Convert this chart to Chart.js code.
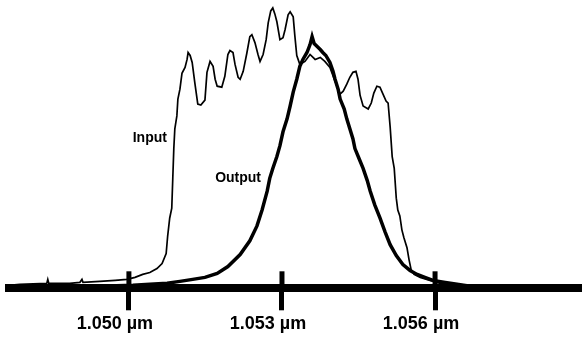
<!DOCTYPE html>
<html>
<head>
<meta charset="utf-8">
<script src="https://cdn.jsdelivr.net/npm/chart.js@4/dist/chart.umd.min.js"></script>
<style>
  html, body { margin: 0; padding: 0; background: #fff; }
  #spectrum { display: block; }
</style>
</head>
<body>
<canvas id="spectrum" width="582" height="337"></canvas>
<script>
// Wavelength in nm, intensity in arbitrary units (baseline = 0)
const inputWl = [
    1047.65, 1047.86, 1048.39, 1048.41, 1048.43, 1048.84, 1049.04, 1049.08, 1049.10, 1049.43,
    1049.73, 1049.96, 1050.12, 1050.27, 1050.41, 1050.55, 1050.65, 1050.73, 1050.76, 1050.80,
    1050.84, 1050.86, 1050.88, 1050.90, 1050.94, 1050.96, 1051.00, 1051.04, 1051.10, 1051.14,
    1051.16, 1051.20, 1051.24, 1051.29, 1051.35, 1051.41, 1051.49, 1051.53, 1051.59, 1051.65,
    1051.69, 1051.73, 1051.82, 1051.88, 1051.94, 1051.98, 1052.04, 1052.08, 1052.14, 1052.18,
    1052.24, 1052.31, 1052.37, 1052.41, 1052.47, 1052.53, 1052.57, 1052.63, 1052.69, 1052.73,
    1052.78, 1052.82, 1052.86, 1052.90, 1052.96, 1053.02, 1053.06, 1053.12, 1053.16, 1053.22,
    1053.25, 1053.29, 1053.35, 1053.45, 1053.55, 1053.65, 1053.75, 1053.84, 1053.94, 1054.04,
    1054.14, 1054.20, 1054.27, 1054.33, 1054.39, 1054.45, 1054.49, 1054.53, 1054.59, 1054.69,
    1054.75, 1054.80, 1054.86, 1054.92, 1054.98, 1055.04, 1055.08, 1055.12, 1055.16, 1055.20,
    1055.24, 1055.27, 1055.31, 1055.35, 1055.39, 1055.45, 1055.49, 1055.53, 1055.59, 1055.71,
    1055.90, 1056.10, 1056.49, 1057.27, 1058.88
];
const inputVal = [
    3, 4, 5, 9, 5, 5, 6, 9, 6, 7,
    8, 9, 11, 14, 16, 20, 25, 35, 53, 71,
    81, 111, 141, 161, 174, 191, 201, 217, 223, 231,
    238, 235, 228, 208, 186, 185, 190, 218, 229, 224,
    211, 204, 203, 214, 236, 240, 238, 226, 213, 211,
    219, 237, 254, 256, 248, 236, 229, 236, 251, 268,
    280, 283, 277, 269, 251, 253, 261, 276, 279, 274,
    256, 235, 226, 229, 236, 231, 233, 229, 223, 209,
    196, 199, 206, 213, 218, 219, 211, 195, 184, 181,
    187, 197, 204, 203, 196, 189, 187, 163, 133, 121,
    91, 79, 73, 59, 51, 41, 29, 19, 14, 11,
    8, 5, 3, 2, 2
];

const outputWl = [
    1047.65, 1049.43, 1050.08, 1050.41, 1050.75, 1051.00, 1051.25, 1051.49, 1051.73, 1051.94,
    1052.18, 1052.37, 1052.51, 1052.61, 1052.71, 1052.76, 1052.82, 1052.90, 1052.96, 1053.02,
    1053.10, 1053.16, 1053.22, 1053.29, 1053.35, 1053.41, 1053.49, 1053.55, 1053.59, 1053.63,
    1053.69, 1053.75, 1053.80, 1053.86, 1053.94, 1054.00, 1054.04, 1054.10, 1054.14, 1054.22,
    1054.27, 1054.33, 1054.39, 1054.43, 1054.51, 1054.59, 1054.67, 1054.73, 1054.82, 1054.92,
    1055.02, 1055.12, 1055.24, 1055.37, 1055.51, 1055.65, 1055.80, 1055.96, 1056.20, 1056.43,
    1056.69, 1056.94, 1057.67, 1058.88
];
const outputVal = [
    2, 2, 3, 4, 5, 7, 9, 11, 15, 22,
    34, 48, 63, 79, 98, 111, 121, 133, 144, 158,
    171, 184, 198, 211, 224, 231, 238, 246, 254, 247,
    244, 241, 238, 235, 228, 219, 211, 201, 191, 181,
    171, 161, 151, 141, 131, 121, 109, 98, 84, 71,
    57, 44, 33, 24, 18, 14, 11, 8, 6, 4,
    2, 1, 1, 1
];

const tickWl = [1050, 1053, 1056];

// curve labels, placed in data coordinates
const curveLabels = [
    { text: 'Input', x: 1050.41, y: 152 },
    { text: 'Output', x: 1052.14, y: 111 }
];

const FONT = '"Liberation Sans", Arial, sans-serif';

// tick marks also stick up above the axis line, and the curve names
const extrasPlugin = {
    id: 'extras',
    afterDatasetsDraw(chart) {
        const ctx = chart.ctx;
        const xs = chart.scales.x;
        const ys = chart.scales.y;
        ctx.save();
        ctx.strokeStyle = '#000';
        ctx.lineWidth = 5;
        xs.ticks.forEach((t, i) => {
            const px = xs.getPixelForTick(i);
            ctx.beginPath();
            ctx.moveTo(px, xs.top - 17);
            ctx.lineTo(px, xs.top);
            ctx.stroke();
        });
        ctx.fillStyle = '#000';
        ctx.font = 'bold 14px ' + FONT;
        ctx.textAlign = 'center';
        ctx.textBaseline = 'middle';
        curveLabels.forEach(l => {
            ctx.fillText(l.text, xs.getPixelForValue(l.x), ys.getPixelForValue(l.y));
        });
        ctx.restore();
    }
};

new Chart(document.getElementById('spectrum'), {
    type: 'line',
    data: {
        datasets: [
            {
                label: 'Input',
                data: inputWl.map((x, i) => ({ x: x, y: inputVal[i] })),
                borderColor: '#000',
                borderWidth: 1.7,
                pointRadius: 0,
                tension: 0
            },
            {
                label: 'Output',
                data: outputWl.map((x, i) => ({ x: x, y: outputVal[i] })),
                borderColor: '#000',
                borderWidth: 3.5,
                pointRadius: 0,
                tension: 0
            }
        ]
    },
    options: {
        responsive: false,
        animation: false,
        layout: { padding: { left: 9, right: 0, top: 0, bottom: 0 } },
        plugins: {
            legend: { display: false },
            tooltip: { enabled: false }
        },
        scales: {
            x: {
                type: 'linear',
                min: 1047.65,
                max: 1058.88,
                afterBuildTicks: scale => {
                    scale.ticks = tickWl.map(v => ({ value: v }));
                },
                border: { display: true, color: '#000', width: 8 },
                grid: {
                    drawOnChartArea: false,
                    drawTicks: true,
                    tickLength: 22,
                    tickWidth: 5,
                    tickColor: '#000'
                },
                ticks: {
                    color: '#000',
                    padding: 3,
                    labelOffset: -14,
                    maxRotation: 0,
                    font: { family: FONT, size: 18, weight: 'bold', lineHeight: 1.15 },
                    callback: v => (v / 1000).toFixed(3) + ' \u00b5m'
                }
            },
            y: {
                display: false,
                min: 0,
                max: 291
            }
        }
    },
    plugins: [extrasPlugin]
});
</script>
</body>
</html>
